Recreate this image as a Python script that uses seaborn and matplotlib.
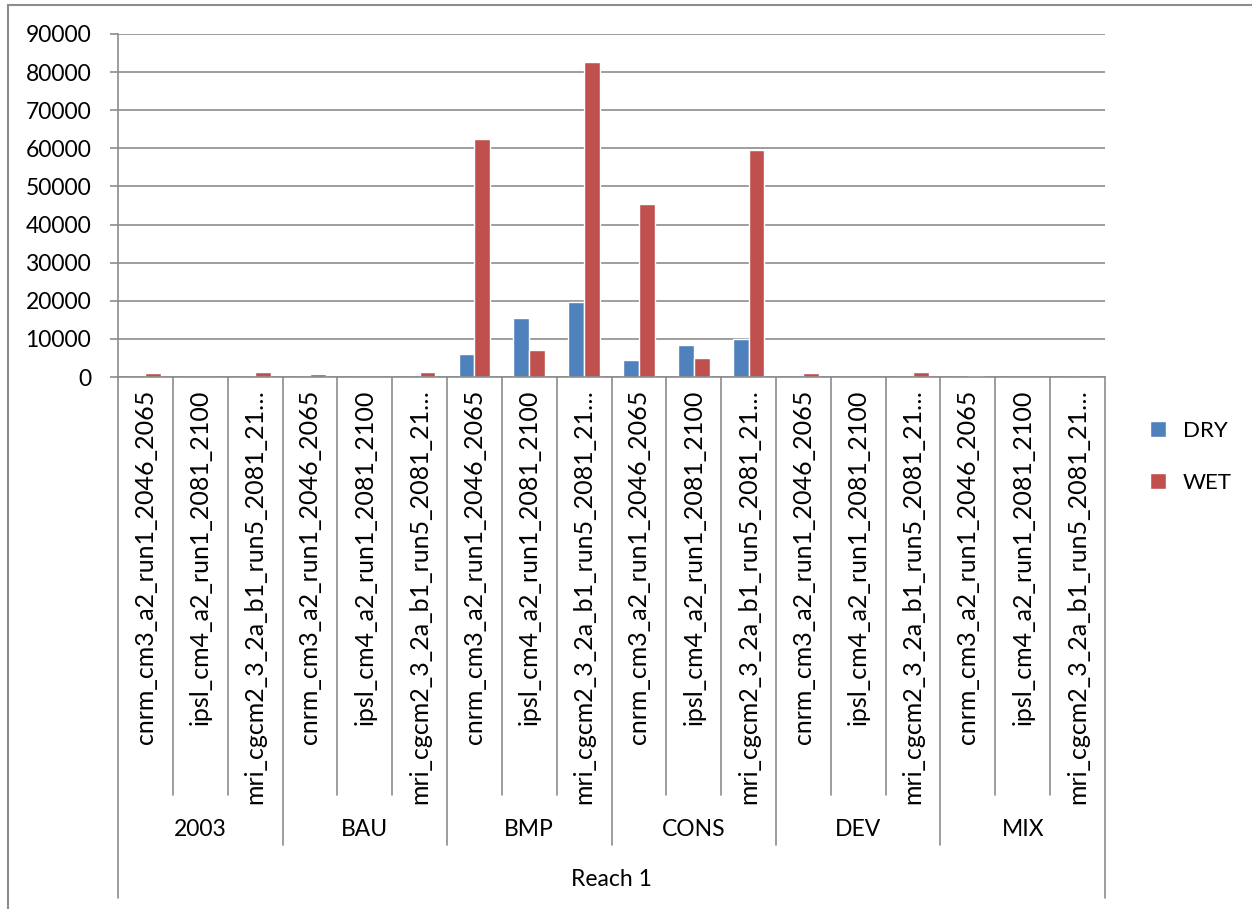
import numpy as np
import pandas as pd
import matplotlib
matplotlib.use("Agg")
import matplotlib.pyplot as plt
import matplotlib.transforms as mtransforms
import seaborn as sns

# data
groups = ["2003", "BAU", "BMP", "CONS", "DEV", "MIX"]
models = ["cnrm_cm3_a2_run1_2046_2065",
          "ipsl_cm4_a2_run1_2081_2100",
          "mri_cgcm2_3_2a_b1_run5_2081_2100"]
model_labels = ["cnrm_cm3_a2_run1_2046_2065",
                "ipsl_cm4_a2_run1_2081_2100",
                "mri_cgcm2_3_2a_b1_run5_2081_21\u2026"]
outer_label = "Reach 1"
dry = [0, 0, 0,
       0, 0, 0,
       6000, 15400, 19600,
       4400, 8500, 9950,
       0, 0, 0,
       0, 0, 0]
wet = [950, 0, 1300,
       850, 0, 1200,
       62450, 7100, 82600,
       45350, 4900, 59550,
       950, 0, 1300,
       250, 0, 500]
yticks = np.arange(0, 90001, 10000)

keys = [g + "|" + m for g in groups for m in models]
df = pd.DataFrame({
    "key": keys * 2,
    "value": dry + wet,
    "series": ["DRY"] * len(keys) + ["WET"] * len(keys),
})

sns.set_style("white")
plt.rcParams["font.family"] = ["Lato", "DejaVu Sans"]
plt.rcParams["text.color"] = "black"
plt.rcParams["xtick.labelcolor"] = "black"
plt.rcParams["ytick.labelcolor"] = "black"

W, H = 1252, 909
fig = plt.figure(figsize=(W / 100, H / 100), dpi=100)
ax = fig.add_axes([118 / W, 1 - 377 / H, (1105 - 118) / W, (377 - 34) / H])

sns.barplot(data=df, x="key", y="value", hue="series", order=keys,
            palette={"DRY": "#4F81BD", "WET": "#C0504D"}, width=0.58,
            saturation=1, ax=ax, legend=True)

grid_c = "#8C8C8C"
fs = 16.5
ax.set_ylim(0, 90000)
ax.set_xlim(-0.5, len(keys) - 0.5)
ax.set_yticks(yticks)
ax.set_yticklabels([str(v) for v in yticks], fontsize=fs)
ax.yaxis.grid(True, color=grid_c, linewidth=1.2)
ax.set_axisbelow(True)
ax.tick_params(axis="y", length=5.8, color=grid_c, width=1.2, pad=13.5, left=True)
ax.tick_params(axis="x", length=0, pad=9)
ax.set_xticks(range(len(keys)))
ax.set_xticklabels(model_labels * len(groups), rotation=90, fontsize=18)
ax.set_xlabel("")
ax.set_ylabel("")
for s in ["top", "right"]:
    ax.spines[s].set_visible(False)
for s in ["bottom", "left"]:
    ax.spines[s].set_color(grid_c)
    ax.spines[s].set_linewidth(1.2)

# multi-level category axis separators
tr = mtransforms.blended_transform_factory(ax.transData, fig.transFigure)
y0 = 1 - 377 / H
y_sub = 1 - 795 / H
y_grp = 1 - 845 / H
y_out = 1 - 898 / H
for i in range(len(keys) + 1):
    xb = i - 0.5
    if i == 0 or i == len(keys):
        yb = y_out
    elif i % len(models) == 0:
        yb = y_grp
    else:
        yb = y_sub
    ax.plot([xb, xb], [y0, yb], color=grid_c, linewidth=1.2,
            transform=tr, clip_on=False)

for gi, g in enumerate(groups):
    xc = gi * len(models) + (len(models) - 1) / 2
    ax.text(xc, 1 - 830 / H, g, transform=tr, ha="center", va="center",
            fontsize=fs)
ax.text((len(keys) - 1) / 2, 1 - 880 / H, outer_label, transform=tr,
        ha="center", va="center", fontsize=fs)

# legend
handles, labels = ax.get_legend_handles_labels()
ax.legend(handles, labels, loc="center left",
          bbox_to_anchor=(1130 / W, 1 - 457 / H), bbox_transform=fig.transFigure,
          frameon=False, fontsize=16, handlelength=0.72, handleheight=0.72,
          handletextpad=0.75, labelspacing=1.45)

# outer chart frame
fig.add_artist(plt.Line2D([8 / W, 8 / W], [1 - 5 / H, 0], color=grid_c,
                          linewidth=1.5, transform=fig.transFigure))
fig.add_artist(plt.Line2D([8 / W, 1], [1 - 5 / H, 1 - 5 / H], color=grid_c,
                          linewidth=1.5, transform=fig.transFigure))

fig.savefig("out.png", dpi=100, facecolor="white")
